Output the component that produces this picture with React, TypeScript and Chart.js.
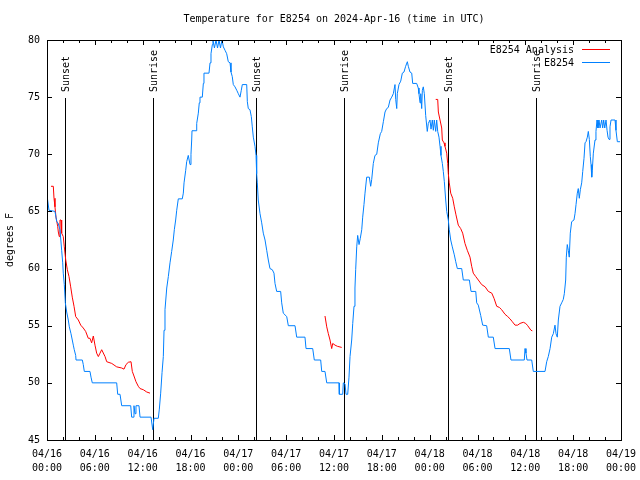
import React, { useEffect, useRef } from 'react';
import { Chart, registerables } from 'chart.js';

Chart.register(...registerables);

const FONT = '"DejaVu Sans Mono", monospace';

const chartTitle = 'Temperature for E8254 on 2024-Apr-16 (time in UTC)';
const yAxisTitle = 'degrees F';
const seriesNames = ['E8254 Analysis', 'E8254'];
const seriesColors = ['#ff0000', '#0080ff'];

const xTickLabels = [
  ['04/16', '00:00'], ['04/16', '06:00'], ['04/16', '12:00'], ['04/16', '18:00'],
  ['04/17', '00:00'], ['04/17', '06:00'], ['04/17', '12:00'], ['04/17', '18:00'],
  ['04/18', '00:00'], ['04/18', '06:00'], ['04/18', '12:00'], ['04/18', '18:00'],
  ['04/19', '00:00'],
];
const xMinorTickHours = [0, 2, 4, 6, 8, 10, 12, 14, 16, 18, 20, 22, 24, 26, 28, 30, 32, 34, 36, 38, 40, 42, 44, 46, 48, 50, 52, 54, 56, 58, 60, 62, 64, 66, 68, 70, 72];
const yTickValues = [45, 50, 55, 60, 65, 70, 75, 80];

const eventLabels = ['Sunset', 'Sunrise', 'Sunset', 'Sunrise', 'Sunset', 'Sunrise'];
const eventHours = [2.26, 13.33, 26.25, 37.29, 50.34, 61.38];

// E8254 observations (hours since 04/16 00:00 UTC, degrees F)
const blueHours = [
  0.06, 0.25, 1.0, 1.22, 1.38, 1.63, 1.84, 1.97, 2.04, 2.17, 2.3, 2.47, 2.67, 2.8, 3.01, 3.17, 3.3, 3.42, 3.6, 3.64,
  4.43, 4.55, 4.68, 5.39, 5.52, 5.68, 8.74, 8.87, 9.16, 9.37, 10.5, 10.62, 10.79, 10.91, 11.04, 11.16, 11.54, 11.67, 13.05, 13.26,
  13.42, 13.96, 14.09, 14.26, 14.43, 14.59, 14.68, 14.8, 15.02, 15.22, 15.43, 15.64, 15.84, 15.97, 16.14, 16.27, 16.47, 16.97, 17.1, 17.19,
  17.4, 17.52, 17.72, 17.94, 18.06, 18.15, 18.19, 18.69, 18.78, 18.98, 19.1, 19.19, 19.48, 19.61, 19.69, 20.32, 20.45, 20.57, 20.74, 20.82,
  21.0, 21.2, 21.39, 21.58, 21.76, 21.95, 22.12, 22.33, 22.54, 22.74, 22.96, 23.08, 23.24, 23.37, 23.58, 23.8, 24.0, 24.21, 24.37, 24.5,
  25.05, 25.13, 25.25, 25.46, 25.63, 25.75, 25.88, 26.09, 26.22, 26.3, 26.38, 26.5, 26.72, 26.93, 27.13, 27.35, 27.56, 27.76, 27.97, 28.26,
  28.47, 28.6, 28.81, 29.31, 29.44, 29.64, 30.07, 30.27, 31.11, 31.32, 32.36, 32.49, 33.33, 33.53, 34.33, 34.46, 34.87, 35.09, 36.63, 36.67,
  37.09, 37.17, 37.38, 37.51, 37.72, 37.88, 38.01, 38.22, 38.35, 38.51, 38.63, 38.72, 38.85, 38.97, 39.14, 39.3, 39.48, 39.6, 39.76, 39.89,
  40.1, 40.43, 40.6, 40.73, 40.93, 41.14, 41.36, 41.56, 41.81, 41.98, 42.19, 42.4, 42.61, 42.81, 43.03, 43.24, 43.44, 43.65, 43.74, 43.87,
  43.94, 44.15, 44.37, 44.57, 44.78, 44.99, 45.2, 45.32, 45.53, 45.75, 45.87, 46.37, 46.57, 46.66, 46.79, 46.88, 47.0, 47.08, 47.2, 47.33,
  47.5, 47.7, 47.83, 48.04, 48.17, 48.33, 48.46, 48.58, 48.76, 48.88, 49.01, 49.17, 49.3, 49.42, 49.59, 49.71, 49.84, 50.01, 50.14, 50.34,
  50.46, 50.64, 50.84, 51.09, 51.27, 51.47, 52.02, 52.22, 52.98, 53.19, 53.78, 53.9, 54.1, 54.4, 54.65, 55.15, 55.36, 55.98, 56.2, 57.99,
  58.2, 59.87, 59.96, 60.08, 60.21, 60.8, 61.0, 62.47, 62.68, 62.88, 63.1, 63.31, 63.51, 63.72, 63.85, 64.01, 64.14, 64.35, 64.56, 64.76,
  64.89, 65.06, 65.14, 65.26, 65.39, 65.51, 65.64, 65.81, 66.1, 66.23, 66.36, 66.52, 66.64, 66.77, 66.9, 67.07, 67.2, 67.36, 67.49, 67.61,
  67.78, 67.9, 68.03, 68.15, 68.24, 68.33, 68.4, 68.53, 68.74, 68.86, 68.99, 69.11, 69.24, 69.37, 69.58, 69.7, 69.83, 69.96, 70.12, 70.25,
  70.37, 70.5, 70.62, 70.75, 71.25, 71.37, 71.54, 71.88,
];
const blueTemps = [
  66.1, 65.1, 65.0, 64.1, 64.0, 63.4, 61.6, 60.5, 59.6, 58.6, 57.0, 56.2, 55.5, 54.9, 54.3, 53.75, 53.3, 52.9, 52.4, 52.0,
  52.0, 51.6, 51.0, 51.0, 50.5, 50.0, 50.0, 49.0, 49.0, 48.0, 48.0, 47.0, 47.0, 48.0, 47.3, 48.0, 48.0, 47.0, 47.0, 45.9,
  46.9, 46.9, 47.7, 49.1, 50.9, 52.3, 54.6, 56.4, 58.3, 59.3, 60.5, 61.5, 62.5, 63.4, 64.25, 65.1, 66.1, 66.1, 66.6, 67.5,
  68.6, 69.35, 69.9, 69.1, 70.0, 71.25, 72.06, 72.06, 72.7, 73.6, 74.5, 75.0, 75.0, 76.2, 77.1, 77.1, 78.0, 78.8, 79.6, 80.0,
  79.3, 80.0, 79.3, 80.0, 79.3, 80.0, 79.4, 79.1, 78.8, 78.1, 78.0, 77.2, 76.8, 76.1, 75.9, 75.6, 75.3, 75.0, 75.6, 76.1,
  76.1, 74.6, 74.0, 73.9, 73.3, 72.4, 71.5, 70.7, 69.9, 68.3, 67.5, 66.0, 64.8, 64.0, 63.1, 62.5, 61.6, 60.75, 60.0, 59.9,
  59.6, 58.7, 58.0, 58.0, 57.0, 56.1, 55.8, 55.0, 55.0, 54.0, 54.0, 53.0, 53.0, 52.0, 52.0, 51.0, 51.0, 50.0, 50.0, 49.0,
  49.0, 50.0, 49.9, 49.0, 49.0, 50.5, 52.3, 53.75, 55.2, 56.7, 58.3, 59.9, 61.9, 62.9, 62.1, 62.65, 63.4, 64.5, 65.6, 66.6,
  68.0, 68.0, 67.2, 67.8, 69.2, 69.9, 70.0, 71.0, 71.8, 72.0, 72.85, 73.7, 74.0, 74.1, 74.75, 75.0, 75.3, 76.1, 74.8, 74.0,
  75.3, 76.1, 76.4, 77.1, 77.2, 77.7, 78.1, 77.7, 77.2, 77.1, 76.2, 76.2, 75.8, 75.3, 74.5, 75.3, 74.0, 75.6, 75.9, 75.3,
  73.4, 72.0, 72.7, 73.0, 72.2, 73.0, 72.1, 73.0, 72.0, 73.0, 72.0, 71.5, 70.7, 69.9, 69.2, 68.5, 67.6, 66.0, 65.0, 64.25,
  63.4, 62.5, 61.9, 61.2, 60.6, 60.0, 60.0, 59.0, 59.0, 58.0, 58.0, 57.0, 56.8, 55.9, 55.05, 55.0, 54.0, 54.0, 53.0, 53.0,
  52.0, 52.0, 53.0, 52.6, 52.0, 52.0, 51.0, 51.0, 51.85, 52.3, 53.0, 54.0, 54.3, 55.05, 54.3, 54.0, 55.5, 56.7, 57.0, 57.3,
  57.8, 59.0, 61.0, 62.1, 61.6, 61.0, 63.1, 64.1, 64.25, 64.8, 65.6, 66.6, 67.0, 66.15, 66.9, 67.5, 68.5, 69.65, 71.0, 71.1,
  71.5, 72.0, 71.3, 69.8, 69.1, 68.0, 68.6, 70.1, 71.25, 72.0, 73.0, 72.3, 73.0, 72.3, 73.0, 72.3, 73.0, 72.3, 73.0, 72.1,
  71.5, 71.3, 72.4, 73.0, 73.0, 72.1, 71.1, 71.1,
];

// E8254 Analysis (null marks a gap between segments)
const redHours = [
  0.5, 0.79, 0.88, 1.0, 1.13, 1.34, 1.42, 1.54, 1.63, 1.76, 1.84, 2.04, 2.17, 2.35, 2.55, 2.76, 2.97, 3.17, 3.39, 3.6,
  3.93, 4.23, 4.55, 4.85, 5.18, 5.39, 5.6, 5.81, 6.02, 6.23, 6.44, 6.65, 6.86, 7.28, 7.49, 8.12, 8.74, 9.37, 9.66, 9.91,
  10.2, 10.54, 10.7, 10.91, 11.16, 11.45, 11.67, 12.08, 12.51, 12.92,
  20,
  34.87, 35.09, 35.29, 35.5, 35.71, 35.84, 36.13, 36.42, 36.97,
  40,
  48.76, 49.01, 49.09, 49.3, 49.51, 49.59, 49.8, 49.92, 50.14, 50.26, 50.34, 50.46, 50.64, 50.89, 51.09, 51.3, 51.59, 51.89, 52.14, 52.43,
  52.72, 53.06, 53.27, 53.47, 53.78, 54.1, 54.52, 54.96, 55.36, 55.79, 56.07, 56.41, 56.74, 57.03, 57.45, 57.79, 58.08, 58.37, 58.71, 59.04,
  59.33, 59.75, 60.05, 60.3, 60.5, 60.71, 60.88,
];
const redTemps = [
  67.2, 67.2, 66.15, 65.4, 64.5, 63.7, 63.2, 62.8, 64.25, 64.25, 63.1, 62.8, 61.9, 60.75, 59.9, 59.3, 58.4, 57.5, 56.7, 55.8,
  55.5, 55.05, 54.8, 54.5, 53.9, 53.9, 53.5, 54.1, 53.3, 52.6, 52.3, 52.6, 52.9, 52.3, 51.85, 51.7, 51.4, 51.3, 51.2, 51.6,
  51.8, 51.85, 51.0, 50.6, 50.1, 49.7, 49.5, 49.4, 49.2, 49.1,
  null,
  55.85, 54.9, 54.3, 53.75, 53.0, 53.45, 53.3, 53.2, 53.1,
  null,
  74.8, 74.8, 73.7, 73.0, 72.3, 71.25, 71.0, 70.7, 70.1, 69.2, 68.3, 67.5, 66.6, 66.15, 65.4, 64.7, 63.8, 63.5, 63.1, 62.2,
  61.6, 61.0, 60.2, 59.6, 59.3, 59.0, 58.6, 58.4, 58.0, 57.85, 57.4, 56.7, 56.6, 56.4, 56.0, 55.8, 55.6, 55.35, 55.05, 55.05,
  55.2, 55.3, 55.2, 55.0, 54.8, 54.6, 54.55,
];

const crisp = (v: number) => Math.round(v) + 0.5;

const gnuplotFrame = {
  id: 'gnuplotFrame',
  beforeDatasetsDraw(chart: any) {
    const { ctx, chartArea } = chart;
    const xs = chart.scales.x;
    ctx.save();
    ctx.strokeStyle = '#000000';
    ctx.lineWidth = 1;
    ctx.fillStyle = '#000000';
    ctx.font = `10px ${FONT}`;
    eventHours.forEach((h, i) => {
      const x = crisp(xs.getPixelForValue(h));
      ctx.beginPath();
      ctx.moveTo(x, chartArea.top + 58);
      ctx.lineTo(x, chartArea.bottom);
      ctx.stroke();
      ctx.save();
      ctx.translate(x + 1, chartArea.top + 52);
      ctx.rotate(-Math.PI / 2);
      ctx.textAlign = 'left';
      ctx.textBaseline = 'middle';
      ctx.fillText(eventLabels[i], 0, 0);
      ctx.restore();
    });
    ctx.restore();
  },
  afterDatasetsDraw(chart: any) {
    const { ctx, chartArea } = chart;
    const xs = chart.scales.x;
    const ys = chart.scales.y;
    const { left, right, top, bottom } = chartArea;
    ctx.save();
    ctx.strokeStyle = '#000000';
    ctx.lineWidth = 1;
    ctx.beginPath();
    xMinorTickHours.forEach((h) => {
      const x = crisp(xs.getPixelForValue(h));
      const len = h % 6 === 0 ? 5 : 3;
      ctx.moveTo(x, bottom);
      ctx.lineTo(x, bottom - len);
      ctx.moveTo(x, top);
      ctx.lineTo(x, top + len);
    });
    yTickValues.forEach((v) => {
      const y = crisp(ys.getPixelForValue(v));
      ctx.moveTo(left, y);
      ctx.lineTo(left + 5, y);
      ctx.moveTo(right, y);
      ctx.lineTo(right - 5, y);
    });
    ctx.stroke();
    ctx.strokeRect(crisp(left), crisp(top), Math.round(right - left), Math.round(bottom - top));

    // legend
    ctx.font = `10px ${FONT}`;
    ctx.fillStyle = '#000000';
    ctx.textAlign = 'right';
    ctx.textBaseline = 'middle';
    seriesNames.forEach((name, i) => {
      const y = top + 10 + i * 13;
      ctx.fillText(name, right - 47, y);
      ctx.strokeStyle = seriesColors[i];
      ctx.beginPath();
      ctx.moveTo(right - 39, crisp(y - 1));
      ctx.lineTo(right - 11, crisp(y - 1));
      ctx.stroke();
    });

    // title
    ctx.textAlign = 'center';
    ctx.fillText(chartTitle, (left + right) / 2, 19);
    ctx.restore();
  },
};

export default function App() {
  const ref = useRef<HTMLCanvasElement>(null);
  useEffect(() => {
    const canvas = ref.current;
    if (!canvas) return;
    const chart = new Chart(canvas, {
      type: 'line',
      data: {
        datasets: [
          {
            label: seriesNames[1],
            data: blueHours.map((h, i) => ({ x: h, y: blueTemps[i] })),
            borderColor: seriesColors[1],
            borderWidth: 1,
            pointRadius: 0,
            tension: 0,
            fill: false,
          },
          {
            label: seriesNames[0],
            data: redHours.map((h, i) => ({ x: h, y: redTemps[i] as any })),
            borderColor: seriesColors[0],
            borderWidth: 1,
            pointRadius: 0,
            tension: 0,
            fill: false,
            spanGaps: false,
          },
        ],
      },
      options: {
        responsive: false,
        animation: false,
        events: [],
        layout: { padding: { left: 0, right: 19, top: 40, bottom: 0 } },
        plugins: {
          legend: { display: false },
          tooltip: { enabled: false },
          title: { display: false },
        },
        scales: {
          x: {
            type: 'linear',
            min: 0,
            max: 72,
            grid: { display: false, drawTicks: false },
            border: { display: false },
            ticks: {
              stepSize: 6,
              autoSkip: false,
              maxRotation: 0,
              padding: 7,
              color: '#000000',
              font: { family: FONT, size: 10, lineHeight: 1.4 },
              callback: (_v: any, i: number) => xTickLabels[i],
            },
            afterFit: (s: any) => {
              s.height = 40;
              s.paddingLeft = 0;
              s.paddingRight = 0;
            },
          },
          y: {
            type: 'linear',
            min: 45,
            max: 80,
            grid: { display: false, drawTicks: false },
            border: { display: false },
            ticks: {
              stepSize: 5,
              padding: 7,
              color: '#000000',
              font: { family: FONT, size: 10 },
            },
            title: {
              display: true,
              text: yAxisTitle,
              color: '#000000',
              font: { family: FONT, size: 10, lineHeight: 1.2 },
              padding: { top: 4, bottom: 0 },
            },
            afterFit: (s: any) => {
              s.width = 47;
              s.paddingTop = 0;
              s.paddingBottom = 0;
            },
          },
        },
      },
      plugins: [gnuplotFrame],
    });
    return () => chart.destroy();
  }, []);
  return (
    <div style={{ position: 'absolute', left: 0, top: 0, width: 640, height: 480, background: '#ffffff' }}>
      <canvas ref={ref} width={640} height={480} />
    </div>
  );
}
